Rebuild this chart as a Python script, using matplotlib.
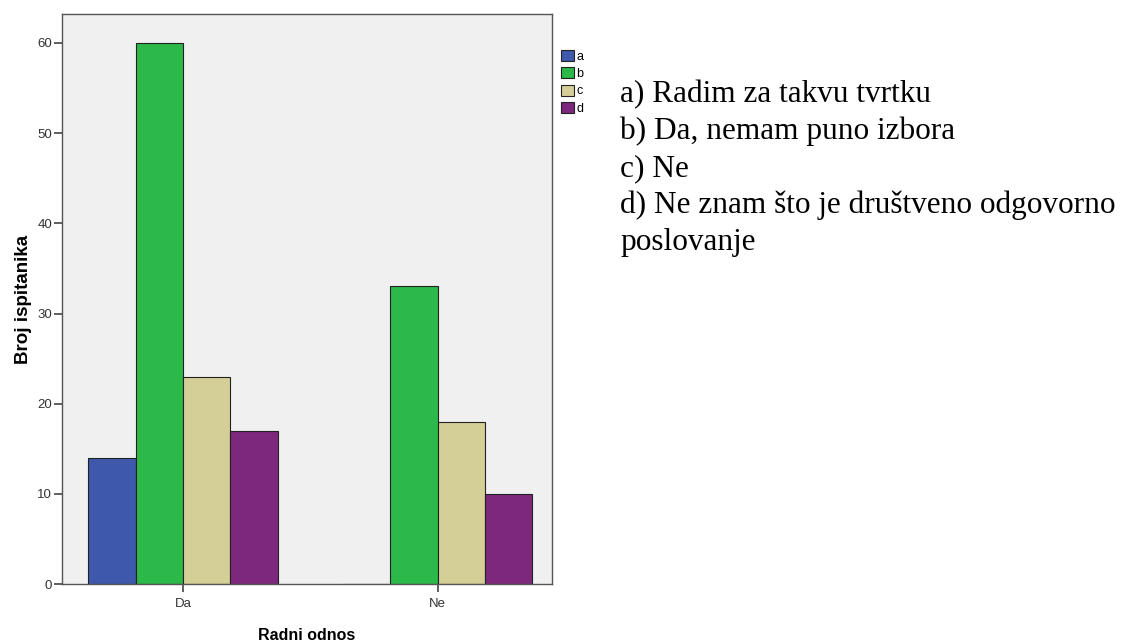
import matplotlib.pyplot as plt
import numpy as np

plt.rcParams['font.family'] = ['Liberation Sans', 'DejaVu Sans']

groups = ['Da', 'Ne']
series = ['a', 'b', 'c', 'd']
values = {
    'a': [14, 0],
    'b': [60, 33],
    'c': [23, 18],
    'd': [17, 10],
}
colors = ['#3e58ac', '#2db84a', '#d4cf96', '#7d287d']
answers = ['a) Radim za takvu tvrtku',
           'b) Da, nemam puno izbora',
           'c) Ne',
           'd) Ne znam što je društveno odgovorno',
           'poslovanje']

fig = plt.figure(figsize=(11.28, 6.42), dpi=100)
ax = fig.add_axes([0.055, 0.0903, 0.434, 0.8877])
ax.set_facecolor('#f0f0f0')

x = np.arange(len(groups))
w = 0.186
handles = []
for i, s in enumerate(series):
    vals = values[s]
    h = ax.bar(x + (i - 1.5) * w, vals, w, color=colors[i], edgecolor='#222222',
               linewidth=0.8, label=s)
    handles.append(h)

ax.set_xlim(-0.475, 1.447)
ax.set_ylim(0, 63.2)
ax.set_yticks(range(0, 61, 10))
ax.set_xticks(x)
ax.set_xticklabels(groups)
ax.tick_params(labelsize=9.5, length=6, width=1.2, color='#444444', labelcolor='#333333')
ax.tick_params(axis='y', pad=1)
ax.tick_params(axis='x', pad=4)
for sp in ax.spines.values():
    sp.set_color('#555555')
    sp.set_linewidth(1.0)

ax.set_xlabel('Radni odnos', fontsize=11.5, fontweight='bold', labelpad=13)
ax.set_ylabel('Broj ispitanika', fontsize=13.5, fontweight='bold', labelpad=4)

leg = ax.legend(handles=handles, labels=series, loc='upper left',
                bbox_to_anchor=(1.02, 0.937), frameon=False, fontsize=9,
                handlelength=1.0, handleheight=1.0, handletextpad=0.2,
                labelspacing=0.35, borderaxespad=0, borderpad=0)

for j, t in enumerate(answers):
    fig.text(620 / 1128, 1 - (102 + 37 * j) / 642, t, fontsize=22.5,
             family='Liberation Serif', va='baseline', ha='left')

fig.savefig('out.png', dpi=100)
